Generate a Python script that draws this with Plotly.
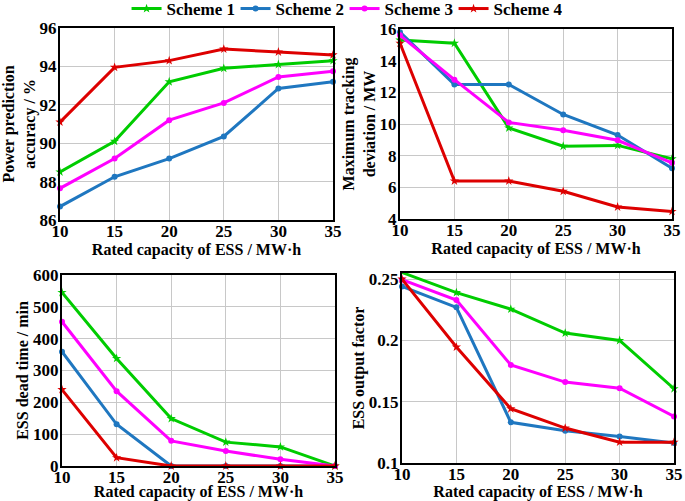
import plotly.graph_objects as go

capacity = [10, 15, 20, 25, 30, 35]
schemes = ["Scheme 1", "Scheme 2", "Scheme 3", "Scheme 4"]

accuracy = {
    "Scheme 1": [88.5, 90.1, 93.2, 93.9, 94.1, 94.3],
    "Scheme 2": [86.7, 88.25, 89.2, 90.35, 92.85, 93.2],
    "Scheme 3": [87.65, 89.2, 91.2, 92.1, 93.45, 93.75],
    "Scheme 4": [91.1, 93.95, 94.3, 94.9, 94.75, 94.6],
}
deviation = {
    "Scheme 1": [15.3, 15.1, 9.75, 8.6, 8.65, 7.8],
    "Scheme 2": [15.8, 12.5, 12.5, 10.6, 9.3, 7.2],
    "Scheme 3": [15.6, 12.8, 10.1, 9.6, 8.97, 7.55],
    "Scheme 4": [15.1, 6.4, 6.4, 5.75, 4.76, 4.48],
}
dead_time = {
    "Scheme 1": [545, 338, 149, 75, 60, 0],
    "Scheme 2": [359, 131, 0, 0, 0, 0],
    "Scheme 3": [453, 235, 79, 47, 21, 0],
    "Scheme 4": [240, 26, 0, 0, 0, 0],
}
output_factor = {
    "Scheme 1": [0.2554, 0.239, 0.2255, 0.206, 0.2, 0.1606],
    "Scheme 2": [0.244, 0.227, 0.1332, 0.1264, 0.1217, 0.1163],
    "Scheme 3": [0.2495, 0.233, 0.18, 0.166, 0.161, 0.138],
    "Scheme 4": [0.25, 0.1946, 0.1443, 0.1285, 0.117, 0.117],
}

colors = {"Scheme 1": "#00CC00", "Scheme 2": "#1F77C0", "Scheme 3": "#FF00FF", "Scheme 4": "#DD0000"}
symbols = {"Scheme 1": "star", "Scheme 2": "circle", "Scheme 3": "circle", "Scheme 4": "star"}
msize = {"Scheme 1": 7, "Scheme 2": 6, "Scheme 3": 6, "Scheme 4": 7}

FONT = "Liberation Serif"
fig = go.Figure()

panels = [
    (accuracy, "x", "y"),
    (deviation, "x2", "y2"),
    (dead_time, "x3", "y3"),
    (output_factor, "x4", "y4"),
]
for pi, (data, xa, ya) in enumerate(panels):
    for s in schemes:
        fig.add_trace(go.Scatter(
            x=capacity, y=data[s], mode="lines+markers", name=s,
            xaxis=xa, yaxis=ya, showlegend=(pi == 0), legendgroup=s,
            line=dict(color=colors[s], width=3),
            marker=dict(symbol=symbols[s], size=msize[s], color=colors[s]),
            cliponaxis=False,
        ))

W, H = 685, 501
def xd(a, b):
    return [a / W, b / W]
def yd(top, bot):
    return [1 - bot / H, 1 - top / H]

tickfont = dict(family=FONT, size=17, color="black", weight="bold")
titlefont = dict(family=FONT, size=16, color="black", weight="bold")

common_x = dict(range=[10, 35], tickvals=capacity, showgrid=True, gridcolor="#C8C8C8",
                gridwidth=1, showline=True, linecolor="black", linewidth=2, mirror=True,
                ticks="", tickfont=tickfont, zeroline=False, ticklabelstandoff=-5,
                title=dict(text="Rated capacity of ESS / MW·h", font=titlefont, standoff=3))
common_y = dict(showgrid=True, gridcolor="#C8C8C8", gridwidth=1, showline=True,
                linecolor="black", linewidth=2, mirror=True, ticks="", tickfont=tickfont,
                zeroline=False, ticklabelstandoff=-2)

fig.update_layout(
    width=W, height=H,
    margin=dict(l=0, r=0, t=0, b=0, autoexpand=False),
    paper_bgcolor="white", plot_bgcolor="white",
    font=dict(family=FONT, color="black", weight="bold"),
    legend=dict(orientation="h", x=0.503, xanchor="center", y=1.018, yanchor="top",
                font=dict(family=FONT, size=17, color="black", weight="bold"),
                bgcolor="rgba(0,0,0,0)", entrywidth=64, tracegroupgap=0),
    xaxis=dict(domain=xd(60, 333), anchor="y", **common_x),
    yaxis=dict(domain=yd(28, 220), anchor="x", range=[86, 96], dtick=2,
               title=dict(text="Power prediction<br>accuracy / %", font=titlefont, standoff=0),
               **common_y),
    xaxis2=dict(domain=xd(400, 672), anchor="y2", **common_x),
    yaxis2=dict(domain=yd(29, 219), anchor="x2", range=[4, 16], dtick=2,
                title=dict(text="Maximum tracking<br>deviation / MW", font=titlefont, standoff=0),
                **common_y),
    xaxis3=dict(domain=xd(62, 335), anchor="y3", **common_x),
    yaxis3=dict(domain=yd(275, 466), anchor="x3", range=[0, 600], dtick=100,
                title=dict(text="ESS dead time / min", font=titlefont, standoff=0),
                **common_y),
    xaxis4=dict(domain=xd(402, 674), anchor="y4", **common_x),
    yaxis4=dict(domain=yd(273, 463), anchor="x4", range=[0.1, 0.255],
                tickvals=[0.1, 0.15, 0.2, 0.25], ticktext=["0.1", "0.15", "0.2", "0.25"],
                title=dict(text="ESS output factor", font=titlefont, standoff=0),
                **common_y),
)

fig.write_html(
    "out.html",
    config={"displayModeBar": False},
    post_script="document.body.style.margin='0';document.body.style.overflow='hidden';",
)
